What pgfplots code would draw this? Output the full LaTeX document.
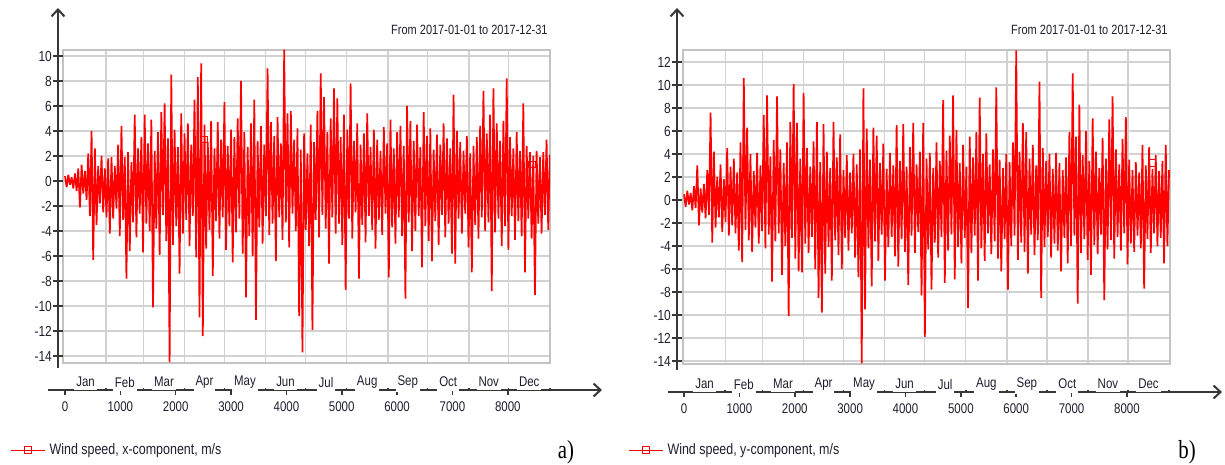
\documentclass[border=0pt]{standalone}
\usepackage{fontspec}
\setmainfont[FakeStretch=0.82]{Liberation Sans}
\newfontfamily\panelfont[FakeStretch=0.8]{Liberation Serif}
\usepackage{pgfplots}
\pgfplotsset{compat=1.18}
\usetikzlibrary{arrows.meta}
\definecolor{gridgray}{RGB}{210,210,210}
\definecolor{boxgray}{RGB}{195,195,195}
\definecolor{txt}{RGB}{30,30,48}
\definecolor{axisblack}{RGB}{55,55,55}

\pgfplotsset{
  chartbox/.style={scale only axis, width=243.5pt, anchor=south west,
    axis line style={draw=boxgray, line width=0.9pt},
    xtick={744,1416,2160,2880,3624,4344,5088,5832,6552,7296,8016},
    ytick={-14,-12,...,12}, xticklabels={}, yticklabels={},
    major tick length=0pt, tick style={draw=none},
    grid=major, grid style={gridgray, line width=0.7pt},
    legend style={draw=none, fill=none, inner sep=0pt, anchor=west,
      font=\fontsize{7.6}{9}\selectfont, text=txt},
    legend cell align=left},
  yaxisline/.style={scale only axis, width=0.1pt, xmin=0, xmax=1, anchor=south west,
    hide x axis, axis y line=left,
    y axis line style={line width=1pt, draw=axisblack, -{Straight Barb[length=3.5pt,width=6.5pt]}},
    tick align=center, major tick length=5pt, tick style={line width=0.8pt, draw=axisblack},
    yticklabel style={font=\fontsize{7.3}{8}\selectfont, text=txt, xshift=3pt,
      /pgf/number format/assume math mode=true}},
  timeaxis/.style={scale only axis, width=277pt, height=2pt, ymin=0, ymax=1, anchor=south west,
    hide y axis, axis x line=bottom,
    x axis line style={line width=1pt, draw=axisblack, -{Straight Barb[length=3.5pt,width=6.5pt]}},
    xtick={0,1000,...,8000}, tick align=outside, major tick length=2.5pt,
    minor xtick={744,1416,2160,2880,3624,4344,5088,5832,6552,7296,8016,8760},
    minor tick length=1.2pt, minor x tick style={yshift=1.2pt},
    tick style={line width=0.8pt, draw=axisblack},
    xticklabel style={font=\fontsize{7}{8}\selectfont, text=txt,
      /pgf/number format/assume math mode=true, /pgf/number format/1000 sep={}},
    extra x ticks={372,1080,1788,2520,3252,3984,4716,5460,6192,6924,7656,8388},
    extra x tick labels={Jan,Feb,Mar,Apr,May,Jun,Jul,Aug,Sep,Oct,Nov,Dec},
    extra x tick style={major tick length=0pt,
      xticklabel style={anchor=center, yshift=4pt, fill=white, inner xsep=1pt, inner ysep=1.8pt}}},
  series/.style={red, line width=0.85pt, line join=bevel, forget plot},
  marks/.style={red, only marks, mark=square, mark size=1.6pt, mark options={fill=white, line width=0.5pt}, forget plot}
}

\begin{document}
\begin{tikzpicture}
\path[use as bounding box] (0,0) rectangle (612.5pt,232.5pt);

% ---- a) x-component ----
\begin{axis}[chartbox, at={(31.5pt,51pt)}, height=156.5pt,
  xmin=-36, xmax=8762, ymin=-14.56, ymax=10.48,
  legend style={at={(-0.1088,-0.278)}}]
\addlegendimage{red, line width=0.5pt, mark=square, mark size=1.6pt, mark options={fill=white}}
\addlegendentry{Wind speed, x-component, m/s}
\addplot[series] coordinates {
(0,0.4)(30,-0.5)(60,0.5)(90,-0.3)(120,0.3)(150,-0.6)(180,0.6)(210,-0.8)
(240,1.0)(270,-2.1)(300,1.3)(330,-1.0)(360,0.8)(390,-1.5)(420,2.2)(450,-2.8)
(480,4.0)(510,-6.3)(540,2.6)(570,-3.5)(600,1.2)(630,-1.8)(660,2.0)(690,-2.5)
(720,1.0)(750,-2.9)(780,1.8)(810,-4.2)(840,1.9)(870,-3.0)(900,1.2)(930,-2.2)
(960,2.9)(990,-4.4)(1020,4.4)(1050,-3.1)(1080,1.9)(1110,-7.8)(1140,2.3)(1170,-5.6)
(1200,1.5)(1230,-3.3)(1260,5.3)(1290,-4.5)(1320,2.6)(1350,-2.6)(1380,3.5)(1410,-5.7)
(1440,5.3)(1470,-3.4)(1500,3.0)(1530,-4.0)(1560,4.9)(1590,-10.1)(1620,2.4)(1650,-3.8)
(1680,3.9)(1710,-5.9)(1740,5.5)(1770,-2.7)(1800,6.2)(1830,-4.8)(1860,3.4)(1890,-14.5)
(1920,8.5)(1950,-5.1)(1980,4.1)(2010,-3.6)(2040,2.7)(2070,-7.4)(2100,5.4)(2130,-4.2)
(2160,3.8)(2190,-3.1)(2220,4.6)(2250,-5.2)(2280,2.9)(2310,-2.8)(2340,6.5)(2370,-6.1)
(2400,8.3)(2430,-10.9)(2460,9.4)(2490,-12.4)(2520,4.5)(2550,-5.4)(2580,3.1)(2610,-3.9)
(2640,4.8)(2670,-7.6)(2700,2.6)(2730,-3.2)(2760,4.7)(2790,-4.6)(2820,3.3)(2850,-2.9)
(2880,6.3)(2910,-5.5)(2940,2.8)(2970,-3.6)(3000,4.1)(3030,-6.5)(3060,3.5)(3090,-4.1)
(3120,5.0)(3150,-3.0)(3180,8.0)(3210,-5.8)(3240,3.9)(3270,-9.3)(3300,2.7)(3330,-4.4)
(3360,4.6)(3390,-6.0)(3420,6.5)(3450,-11.1)(3480,3.2)(3510,-3.7)(3540,4.4)(3570,-5.0)
(3600,2.9)(3630,-2.8)(3660,9.0)(3690,-4.3)(3720,4.7)(3750,-3.4)(3780,3.6)(3810,-6.4)
(3840,5.1)(3870,-2.9)(3900,3.0)(3930,-4.7)(3960,10.5)(3990,-3.3)(4020,5.4)(4050,-5.3)
(4080,5.6)(4110,-2.6)(4140,3.3)(4170,-4.0)(4200,4.2)(4230,-10.8)(4260,2.5)(4290,-13.7)
(4320,3.8)(4350,-3.9)(4380,2.2)(4410,-5.2)(4440,4.5)(4470,-11.9)(4500,3.1)(4530,-3.1)
(4560,5.6)(4590,-4.5)(4620,8.6)(4650,-2.7)(4680,6.7)(4710,-3.8)(4740,3.9)(4770,-6.6)
(4800,5.0)(4830,-2.9)(4860,7.4)(4890,-4.2)(4920,6.6)(4950,-3.4)(4980,3.5)(5010,-5.1)
(5040,5.3)(5070,-8.7)(5100,4.1)(5130,-3.0)(5160,7.8)(5190,-4.6)(5220,3.2)(5250,-2.5)
(5280,4.6)(5310,-7.8)(5340,2.9)(5370,-3.5)(5400,3.8)(5430,-4.9)(5460,5.4)(5490,-2.8)
(5520,2.7)(5550,-3.9)(5580,4.1)(5610,-5.4)(5640,3.3)(5670,-3.1)(5700,2.4)(5730,-4.3)
(5760,4.3)(5790,-2.6)(5820,3.0)(5850,-7.7)(5880,4.9)(5910,-3.7)(5940,2.6)(5970,-5.0)
(6000,3.9)(6030,-2.9)(6060,4.4)(6090,-4.4)(6120,2.8)(6150,-9.4)(6180,6.0)(6210,-3.3)
(6240,4.8)(6270,-5.6)(6300,3.2)(6330,-4.0)(6360,4.5)(6390,-2.8)(6420,2.7)(6450,-6.9)
(6480,5.5)(6510,-3.6)(6540,3.6)(6570,-4.8)(6600,4.2)(6630,-6.4)(6660,2.5)(6690,-3.2)
(6720,3.7)(6750,-5.1)(6780,2.9)(6810,-2.7)(6840,4.6)(6870,-4.5)(6900,3.4)(6930,-3.4)
(6960,2.6)(6990,-5.8)(7020,6.9)(7050,-6.6)(7080,4.0)(7110,-3.0)(7140,3.1)(7170,-4.2)
(7200,2.4)(7230,-2.6)(7260,3.6)(7290,-5.3)(7320,2.2)(7350,-7.3)(7380,2.8)(7410,-3.5)
(7440,3.5)(7470,-4.6)(7500,4.4)(7530,-2.9)(7560,7.2)(7590,-4.0)(7620,3.8)(7650,-3.3)
(7680,5.3)(7710,-8.8)(7740,7.4)(7770,-4.1)(7800,4.6)(7830,-3.0)(7860,3.2)(7890,-5.2)
(7920,4.8)(7950,-3.6)(7980,8.2)(8010,-5.5)(8040,3.5)(8070,-2.8)(8100,2.6)(8130,-4.7)
(8160,3.9)(8190,-3.2)(8220,2.4)(8250,-4.4)(8280,6.2)(8310,-7.3)(8340,2.8)(8370,-3.0)
(8400,2.3)(8430,-4.6)(8460,2.0)(8490,-9.1)(8520,2.4)(8550,-3.4)(8580,1.9)(8610,-4.2)
(8640,2.3)(8670,-2.7)(8700,3.3)(8730,-3.9)(8760,2.1)
};
\addplot[marks] coordinates {(2510,3.3)(8440,1.3)};
\end{axis}

\begin{axis}[yaxisline, at={(29pt,48.5pt)}, height=180pt,
  ymin=-14.96, ymax=13.84, ytick={-14,-12,...,10}]
\end{axis}

\begin{axis}[timeaxis, at={(24pt,37.5pt)}, xmin=-307, xmax=9702]
\end{axis}

\node[anchor=east, inner sep=0pt, font=\fontsize{6.7}{8}\selectfont, text=txt] at (274pt,217.5pt) {From 2017-01-01 to 2017-12-31};
\node[font=\panelfont\fontsize{13}{15}\selectfont] at (283pt,6.5pt) {a)};

% ---- b) y-component ----
\begin{axis}[chartbox, at={(341.5pt,50.5pt)}, height=157pt,
  xmin=-18, xmax=8777, ymin=-14.26, ymax=13.04,
  legend style={at={(-0.113,-0.274)}}]
\addlegendimage{red, line width=0.5pt, mark=square, mark size=1.6pt, mark options={fill=white}}
\addlegendentry{Wind speed, y-component, m/s}
\addplot[series] coordinates {
(0,0.5)(30,-0.6)(60,0.8)(90,-0.4)(120,0.6)(150,-0.9)(180,1.2)(210,-0.7)
(240,3.0)(270,-2.2)(300,1.0)(330,-1.1)(360,1.4)(390,-1.6)(420,2.6)(450,-1.3)
(480,7.6)(510,-3.7)(540,4.2)(570,-2.4)(600,2.0)(630,-1.5)(660,3.1)(690,-2.8)
(720,1.8)(750,-1.9)(780,4.5)(810,-3.1)(840,2.9)(870,-2.2)(900,3.6)(930,-2.9)
(960,2.4)(990,-4.4)(1020,5.0)(1050,-5.4)(1080,10.6)(1110,-2.6)(1140,6.3)(1170,-3.5)
(1200,4.0)(1230,-4.5)(1260,2.5)(1290,-2.4)(1320,4.1)(1350,-3.8)(1380,3.0)(1410,-2.7)
(1440,7.4)(1470,-4.2)(1500,9.1)(1530,-3.0)(1560,3.8)(1590,-7.1)(1620,5.2)(1650,-3.6)
(1680,9.0)(1710,-2.9)(1740,4.4)(1770,-6.5)(1800,3.2)(1830,-4.0)(1860,5.0)(1890,-10.1)
(1920,6.8)(1950,-3.3)(1980,10.1)(2010,-5.1)(2040,6.7)(2070,-6.2)(2100,3.6)(2130,-6.3)
(2160,9.3)(2190,-3.8)(2220,4.5)(2250,-4.6)(2280,2.9)(2310,-3.2)(2340,5.1)(2370,-6.0)
(2400,6.8)(2430,-8.5)(2460,3.3)(2490,-9.8)(2520,6.6)(2550,-6.4)(2580,4.2)(2610,-4.1)
(2640,2.8)(2670,-7.0)(2700,6.8)(2730,-3.5)(2760,3.7)(2790,-4.8)(2820,5.7)(2850,-6.0)
(2880,2.6)(2910,-3.3)(2940,3.9)(2970,-4.4)(3000,2.4)(3030,-2.9)(3060,4.0)(3090,-5.0)
(3120,3.1)(3150,-6.7)(3180,4.4)(3210,-14.2)(3240,9.7)(3270,-9.5)(3300,6.2)(3330,-4.2)
(3360,3.5)(3390,-7.5)(3420,6.3)(3450,-3.6)(3480,5.6)(3510,-5.3)(3540,3.2)(3570,-3.0)
(3600,4.9)(3630,-7.0)(3660,2.7)(3690,-4.1)(3720,4.1)(3750,-3.2)(3780,3.0)(3810,-4.9)
(3840,6.5)(3870,-5.8)(3900,3.4)(3930,-3.4)(3960,6.6)(3990,-4.5)(4020,2.9)(4050,-7.4)
(4080,4.6)(4110,-3.1)(4140,6.7)(4170,-4.6)(4200,3.1)(4230,-2.8)(4260,4.2)(4290,-8.3)
(4320,6.7)(4350,-11.9)(4380,3.6)(4410,-4.3)(4440,4.1)(4470,-7.8)(4500,2.8)(4530,-3.7)
(4560,5.0)(4590,-5.0)(4620,3.4)(4650,-3.2)(4680,8.7)(4710,-7.2)(4740,4.3)(4770,-4.4)
(4800,5.6)(4830,-3.0)(4860,9.1)(4890,-6.9)(4920,6.1)(4950,-4.1)(4980,3.2)(5010,-5.5)
(5040,4.8)(5070,-3.3)(5100,2.9)(5130,-9.4)(5160,5.5)(5190,-4.6)(5220,3.7)(5250,-3.1)
(5280,5.9)(5310,-7.0)(5340,8.9)(5370,-4.2)(5400,4.0)(5430,-5.3)(5460,5.8)(5490,-2.9)
(5520,3.1)(5550,-4.7)(5580,4.4)(5610,-3.6)(5640,9.8)(5670,-5.1)(5700,3.5)(5730,-6.2)
(5760,2.8)(5790,-3.4)(5820,4.0)(5850,-7.8)(5880,3.3)(5910,-4.0)(5940,5.0)(5970,-3.1)
(6000,13.0)(6030,-5.2)(6060,4.2)(6090,-3.7)(6120,6.7)(6150,-4.5)(6180,5.9)(6210,-6.4)
(6240,3.6)(6270,-3.0)(6300,4.8)(6330,-4.8)(6360,3.0)(6390,-3.5)(6420,10.3)(6450,-8.5)
(6480,4.5)(6510,-4.1)(6540,3.4)(6570,-3.2)(6600,4.0)(6630,-5.0)(6660,2.7)(6690,-3.8)
(6720,4.1)(6750,-4.4)(6780,3.2)(6810,-6.2)(6840,2.6)(6870,-3.3)(6900,3.7)(6930,-5.5)
(6960,5.9)(6990,-4.0)(7020,11.0)(7050,-3.1)(7080,5.5)(7110,-9.0)(7140,8.3)(7170,-4.6)
(7200,3.9)(7230,-3.4)(7260,6.0)(7290,-5.2)(7320,3.4)(7350,-6.5)(7380,7.1)(7410,-3.9)
(7440,4.2)(7470,-4.7)(7500,2.8)(7530,-3.0)(7560,5.4)(7590,-8.7)(7620,3.6)(7650,-4.3)
(7680,7.0)(7710,-3.5)(7740,9.0)(7770,-5.1)(7800,4.4)(7830,-3.2)(7860,3.1)(7890,-4.4)
(7920,5.3)(7950,-2.9)(7980,7.2)(8010,-5.6)(8040,3.5)(8070,-3.8)(8100,2.6)(8130,-4.5)
(8160,3.3)(8190,-3.1)(8220,2.4)(8250,-4.2)(8280,4.8)(8310,-7.7)(8340,3.0)(8370,-3.4)
(8400,4.6)(8430,-4.6)(8460,2.7)(8490,-2.9)(8520,3.9)(8550,-4.0)(8580,2.5)(8610,-3.3)
(8640,3.4)(8670,-5.5)(8700,4.8)(8730,-4.0)(8760,2.6)
};
\addplot[marks] coordinates {(8455,3.2)};
\end{axis}

\begin{axis}[yaxisline, at={(338.5pt,47.5pt)}, height=181pt,
  ymin=-14.78, ymax=16.7, ytick={-14,-12,...,12}]
\end{axis}

\begin{axis}[timeaxis, at={(334pt,36.5pt)}, xmin=-289, xmax=9716]
\end{axis}

\node[anchor=east, inner sep=0pt, font=\fontsize{6.7}{8}\selectfont, text=txt] at (584pt,217.5pt) {From 2017-01-01 to 2017-12-31};
\node[font=\panelfont\fontsize{13}{15}\selectfont] at (593.5pt,6.5pt) {b)};
\end{tikzpicture}
\end{document}
